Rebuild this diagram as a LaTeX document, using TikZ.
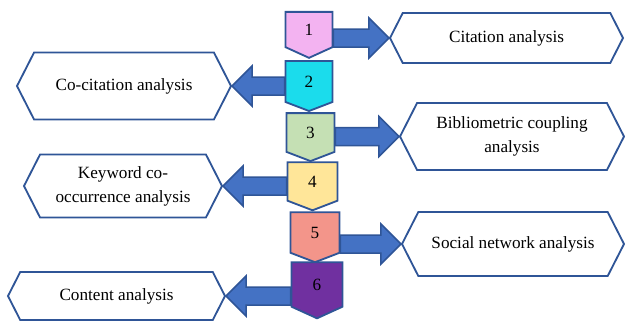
\documentclass[tikz,border=0pt]{standalone}
\usepackage{fontspec}
\setmainfont{Liberation Serif}
\usepackage{xcolor}
\usetikzlibrary{shapes.symbols,calc}

\definecolor{edgeblue}{HTML}{2F5597}
\definecolor{arrowblue}{HTML}{4472C4}
\definecolor{stepone}{HTML}{F3B3F1}
\definecolor{steptwo}{HTML}{1BDCEC}
\definecolor{stepthree}{HTML}{C5E0B4}
\definecolor{stepfour}{HTML}{FFE699}
\definecolor{stepfive}{HTML}{F3958A}
\definecolor{stepsix}{HTML}{7030A0}

\tikzset{
  numbox/.style={signal, signal to=south, signal from=nowhere, signal pointer angle=138,
    draw=edgeblue, line width=1.1pt, inner sep=0pt, align=center,
    font=\fontsize{10.3}{12}\selectfont},
  topicbox/.style={signal, signal to=west and east, signal from=nowhere, signal pointer angle=126,
    draw=edgeblue, line width=1.1pt, fill=white, inner sep=0pt, align=center,
    font=\fontsize{10.3}{14.4}\selectfont},
  blockarrow/.style={draw=edgeblue, fill=arrowblue, line width=0.9pt,
    to path={let \p1=(\tikztostart), \p2=(\tikztotarget), \p3=($(\p2)!12pt!(\p1)$) in
      (\x1,\y1+5.4pt) -- (\x3,\y1+5.4pt) -- (\x3,\y1+12pt) -- (\x2,\y2)
      -- (\x3,\y1-12pt) -- (\x3,\y1-5.4pt) -- (\x1,\y1-5.4pt) -- cycle}}
}

\begin{document}
\begin{tikzpicture}[x=0.6pt,y=-0.6pt]
  \useasboundingbox (0,0) rectangle (625,322);
  % numbered steps
  \node[numbox, fill=stepone, text width=28.2pt, minimum height=27.6pt, signal pointer angle=131] (p1) at (309,29.5) {1};
  \node[numbox, fill=steptwo, text width=28.2pt, minimum height=30pt] (p2) at (309,81.5) {2};
  \node[numbox, fill=stepthree, text width=28.8pt, minimum height=28.8pt] (p3) at (310.5,132.5) {3};
  \node[numbox, fill=stepfour, text width=30pt, minimum height=28.8pt] (p4) at (312.5,181.5) {4};
  \node[numbox, fill=stepfive, text width=29.4pt, minimum height=30pt] (p5) at (315,232.5) {5};
  \node[numbox, fill=stepsix, text width=30.6pt, minimum height=33.6pt, signal pointer angle=131] (p6) at (317,284.5) {6};
  % analysis types
  \node[topicbox, minimum width=139.8pt, minimum height=30pt] (h1) at (506.5,38) {Citation analysis};
  \node[topicbox, minimum width=128.4pt, minimum height=40.2pt] (h2) at (124,86) {Co-citation analysis};
  \node[topicbox, minimum width=134.4pt, minimum height=40.2pt] (h3) at (512,136.5) {Bibliometric coupling\\analysis};
  \node[topicbox, minimum width=118.8pt, minimum height=37.8pt] (h4) at (123,186) {Keyword co-\\occurrence analysis};
  \node[topicbox, minimum width=133.2pt, minimum height=38.4pt] (h5) at (513,244) {Social network analysis};
  \node[topicbox, minimum width=130.2pt, minimum height=28.8pt] (h6) at (116.5,296) {Content analysis};
  % arrows
  \draw[blockarrow] (p1.east |- h1.west) to (h1.west);
  \draw[blockarrow] (p2.west |- h2.east) to (h2.east);
  \draw[blockarrow] (p3.east |- h3.west) to (h3.west);
  \draw[blockarrow] (p4.west |- h4.east) to (h4.east);
  \draw[blockarrow] (p5.east |- h5.west) to (h5.west);
  \draw[blockarrow] (p6.west |- h6.east) to (h6.east);
\end{tikzpicture}
\end{document}
